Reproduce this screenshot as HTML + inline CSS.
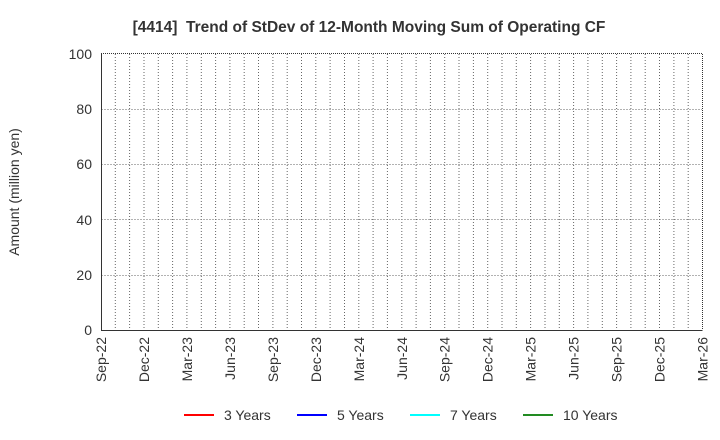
<!DOCTYPE html>
<html><head><meta charset="utf-8"><style>body{margin:0;background:#fff}svg{display:block}text{font-family:"Liberation Sans",sans-serif;fill:#333}</style></head>
<body>
<svg width="720" height="440" xmlns="http://www.w3.org/2000/svg">
<text x="369" y="32" text-anchor="middle" font-size="15.5" font-weight="bold">[4414]&#160; Trend of StDev of 12-Month Moving Sum of Operating CF</text>
<g stroke="#666" stroke-width="1" stroke-dasharray="1,2" fill="none">
<path d="M101.5 109.5H702M101.5 164.5H702M101.5 219.5H702M101.5 275.5H702"/>
<path d="M115.3 54V330M129.6 54V330M144 54V330M158.3 54V330M172.6 54V330M186.9 54V330M201.3 54V330M215.6 54V330M229.9 54V330M244.2 54V330M258.5 54V330M272.9 54V330M287.2 54V330M301.5 54V330M315.8 54V330M330.1 54V330M344.5 54V330M358.8 54V330M373.1 54V330M387.4 54V330M401.8 54V330M416.1 54V330M430.4 54V330M444.7 54V330M459 54V330M473.4 54V330M487.7 54V330M502 54V330M516.3 54V330M530.6 54V330M545 54V330M559.3 54V330M573.6 54V330M587.9 54V330M602.3 54V330M616.6 54V330M630.9 54V330M645.2 54V330M659.5 54V330M673.9 54V330M688.2 54V330"/>
</g>
<path d="M101.5 54V330.5H702.5" stroke="#333" fill="none"/>
<path d="M101 53.5H702.5V330" stroke="#333" stroke-dasharray="1,1" fill="none"/>
<g font-size="14" text-anchor="end">
<text x="92" y="59">100</text><text x="92" y="114">80</text><text x="92" y="169">60</text><text x="92" y="225">40</text><text x="92" y="280">20</text><text x="92" y="335">0</text>
</g>
<text transform="translate(19,192) rotate(-90)" font-size="14" text-anchor="middle">Amount (million yen)</text>
<g font-size="14" text-anchor="end">
<text transform="translate(106,337) rotate(-90)">Sep-22</text>
<text transform="translate(149,337) rotate(-90)">Dec-22</text>
<text transform="translate(191.9,337) rotate(-90)">Mar-23</text>
<text transform="translate(234.9,337) rotate(-90)">Jun-23</text>
<text transform="translate(277.9,337) rotate(-90)">Sep-23</text>
<text transform="translate(320.8,337) rotate(-90)">Dec-23</text>
<text transform="translate(363.8,337) rotate(-90)">Mar-24</text>
<text transform="translate(406.8,337) rotate(-90)">Jun-24</text>
<text transform="translate(449.7,337) rotate(-90)">Sep-24</text>
<text transform="translate(492.7,337) rotate(-90)">Dec-24</text>
<text transform="translate(535.6,337) rotate(-90)">Mar-25</text>
<text transform="translate(578.6,337) rotate(-90)">Jun-25</text>
<text transform="translate(621.6,337) rotate(-90)">Sep-25</text>
<text transform="translate(664.5,337) rotate(-90)">Dec-25</text>
<text transform="translate(707.5,337) rotate(-90)">Mar-26</text>
</g>
<g stroke-width="2">
<line x1="184" y1="415" x2="214" y2="415" stroke="#f00"/>
<line x1="297" y1="415" x2="327" y2="415" stroke="#00f"/>
<line x1="410" y1="415" x2="440" y2="415" stroke="#0ff"/>
<line x1="523" y1="415" x2="553" y2="415" stroke="#228b22"/>
</g>
<g font-size="14">
<text x="224" y="420">3 Years</text><text x="337" y="420">5 Years</text><text x="450" y="420">7 Years</text><text x="563" y="420">10 Years</text>
</g>
</svg>
</body></html>
